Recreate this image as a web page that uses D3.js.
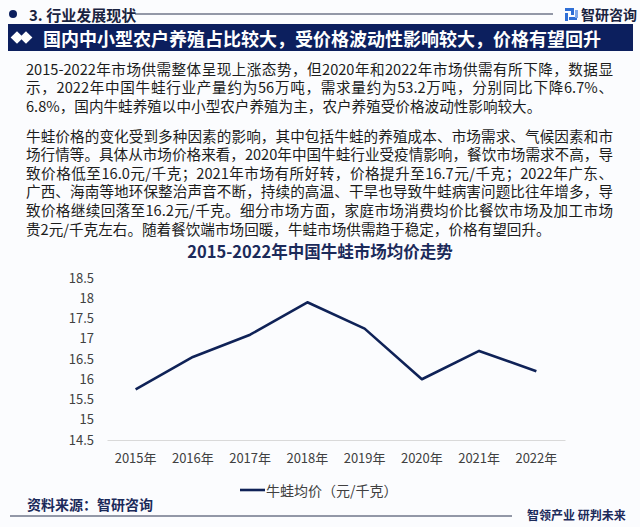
<!DOCTYPE html>
<html>
<head>
<meta charset="utf-8">
<script src="https://cdn.jsdelivr.net/npm/d3@7"></script>
<style>
  body { margin: 0; background: #fff; }
  #wrap { position: relative; width: 640px; height: 527px; }
  svg { display: block; font-family: "Noto Sans CJK SC", "Noto Sans", sans-serif; }
  .para { position: absolute; left: 26px; width: 587px;
          font-family: "Noto Sans CJK SC", sans-serif; font-size: 14.6px; color: #1c1c1c; }
  .para div { height: 18.6px; line-height: 18.6px; overflow: visible; white-space: nowrap; }
  .para div.full { text-align: justify; text-align-last: justify; text-justify: inter-character; }
</style>
</head>
<body>
<div id="wrap"><svg id="mainsvg" width="640" height="527"></svg></div>
<script>
// data
const years = ['2015年', '2016年', '2017年', '2018年', '2019年', '2020年', '2021年', '2022年'];
const prices = [15.75, 16.55, 17.1, 17.9, 17.25, 16.0, 16.7, 16.2];
const yTicks = [14.5, 15, 15.5, 16, 16.5, 17, 17.5, 18, 18.5];
const seriesName = '牛蛙均价（元/千克）';
const chartTitle = '2015-2022年中国牛蛙市场均价走势';
const para1 = [
  '2015-2022年市场供需整体呈现上涨态势，但2020年和2022年市场供需有所下降，数据显',
  '示，2022年中国牛蛙行业产量约为56万吨，需求量约为53.2万吨，分别同比下降6.7%、',
  '6.8%，国内牛蛙养殖以中小型农户养殖为主，农户养殖受价格波动性影响较大。'
];
const para2 = [
  '牛蛙价格的变化受到多种因素的影响，其中包括牛蛙的养殖成本、市场需求、气候因素和市',
  '场行情等。具体从市场价格来看，2020年中国牛蛙行业受疫情影响，餐饮市场需求不高，导',
  '致价格低至16.0元/千克；2021年市场有所好转，价格提升至16.7元/千克；2022年广东、',
  '广西、海南等地环保整治声音不断，持续的高温、干旱也导致牛蛙病害问题比往年增多，导',
  '致价格继续回落至16.2元/千克。细分市场方面，家庭市场消费均价比餐饮市场及加工市场',
  '贵2元/千克左右。随着餐饮端市场回暖，牛蛙市场供需趋于稳定，价格有望回升。'
];

const svg = d3.select('#mainsvg');
const navy = '#0c1f5e';
const lineColor = '#0f2257';

svg.append('rect').attr('width', 640).attr('height', 527).attr('fill', '#fbfcfe');

// header
svg.append('circle').attr('cx', 13).attr('cy', 14).attr('r', 4).attr('fill', navy);
svg.append('text').attr('x', 29).attr('y', 14).attr('dominant-baseline', 'central')
  .attr('font-size', 15).attr('font-weight', 'bold').attr('fill', '#1a2340')
  .text('3. 行业发展现状');
svg.append('line').attr('x1', 135).attr('x2', 553).attr('y1', 14).attr('y2', 14)
  .attr('stroke', '#2a3550').attr('stroke-width', 1);
// logo
const logo = svg.append('g').attr('transform', 'translate(565,8)');
logo.append('rect').attr('x', 0).attr('y', 0).attr('width', 9).attr('height', 3).attr('fill', '#2f6fd6');
logo.append('rect').attr('x', 6).attr('y', 0).attr('width', 3).attr('height', 7).attr('fill', '#2f6fd6');
logo.append('rect').attr('x', 0).attr('y', 5).attr('width', 3).attr('height', 8).attr('fill', '#2f6fd6');
logo.append('rect').attr('x', 4).attr('y', 9).attr('width', 8).attr('height', 3).attr('fill', '#2f6fd6');
logo.append('rect').attr('x', 10).attr('y', 2).attr('width', 3).attr('height', 8).attr('fill', '#7fa8ea');
svg.append('text').attr('x', 581).attr('y', 14).attr('dominant-baseline', 'central')
  .attr('font-size', 14).attr('font-weight', 'bold').attr('fill', '#1a2340')
  .text('智研咨询');

// banner
svg.append('rect').attr('x', 8).attr('y', 24).attr('width', 625).attr('height', 27).attr('fill', navy);
[17, 26].forEach(cx => {
  svg.append('rect').attr('x', -4.5).attr('y', -4.5).attr('width', 9).attr('height', 9)
    .attr('fill', '#fff')
    .attr('transform', `translate(${cx},37.5) rotate(45)`);
});
svg.append('text').attr('x', 43).attr('y', 37.5).attr('dominant-baseline', 'central')
  .attr('font-size', 18).attr('font-weight', 'bold').attr('fill', '#fff')
  .text('国内中小型农户养殖占比较大，受价格波动性影响较大，价格有望回升');

// paragraphs as html blocks over the svg (justified lines)
function drawPara(lines, yCenter) {
  const box = d3.select('#wrap').append('div').attr('class', 'para')
    .style('top', (yCenter - 9.3) + 'px');
  box.selectAll('div').data(lines).join('div')
    .attr('class', (d, i) => i < lines.length - 1 ? 'full' : null)
    .text(d => d);
}
drawPara(para1, 69);
drawPara(para2, 136);

// chart title
svg.append('text').attr('x', 320).attr('y', 251).attr('text-anchor', 'middle')
  .attr('dominant-baseline', 'central')
  .attr('font-size', 16.5).attr('font-weight', 'bold').attr('fill', '#1b2a5a')
  .text(chartTitle);

// chart
const xScale = d3.scaleBand().domain(years).range([107, 565]);
const yScale = d3.scaleLinear().domain([14.5, 18.5]).range([440, 278]);

const xAxis = svg.append('g').attr('transform', 'translate(0,440)')
  .call(d3.axisBottom(xScale).tickSize(0).tickPadding(14));
xAxis.select('.domain').attr('stroke', '#d9d9d9').attr('stroke-width', 1.2);
xAxis.selectAll('text').attr('font-size', 13).attr('fill', '#404040')
  .attr('font-family', '"Noto Sans CJK SC", sans-serif');

const yAxis = svg.append('g').attr('transform', 'translate(94,0)')
  .call(d3.axisLeft(yScale).tickValues(yTicks).tickSize(0).tickPadding(0).tickFormat(d3.format('')));
yAxis.select('.domain').remove();
yAxis.selectAll('text').attr('font-size', 13).attr('fill', '#404040')
  .attr('font-family', '"Noto Sans CJK SC", sans-serif');

const line = d3.line()
  .x((d, i) => xScale(years[i]) + xScale.bandwidth() / 2)
  .y(d => yScale(d));
svg.append('path').datum(prices).attr('d', line)
  .attr('fill', 'none').attr('stroke', lineColor).attr('stroke-width', 2.6)
  .attr('stroke-linejoin', 'round');

// legend
svg.append('line').attr('x1', 240).attr('x2', 265).attr('y1', 490).attr('y2', 490)
  .attr('stroke', lineColor).attr('stroke-width', 2.6);
svg.append('text').attr('x', 266).attr('y', 490).attr('dominant-baseline', 'central')
  .attr('font-size', 14).attr('fill', '#404040').text(seriesName);

// footer
svg.append('text').attr('x', 27).attr('y', 504).attr('dominant-baseline', 'central')
  .attr('font-size', 14).attr('font-weight', 'bold').attr('fill', '#1b2a5a')
  .text('资料来源：智研咨询');
svg.append('line').attr('x1', 10).attr('x2', 512).attr('y1', 516).attr('y2', 516)
  .attr('stroke', '#2a3550').attr('stroke-width', 1);
svg.append('text').attr('x', 527).attr('y', 514).attr('dominant-baseline', 'central')
  .attr('font-size', 12).attr('font-weight', 'bold').attr('fill', '#1b2a5a')
  .text('智领产业 研判未来');
</script>
</body>
</html>
